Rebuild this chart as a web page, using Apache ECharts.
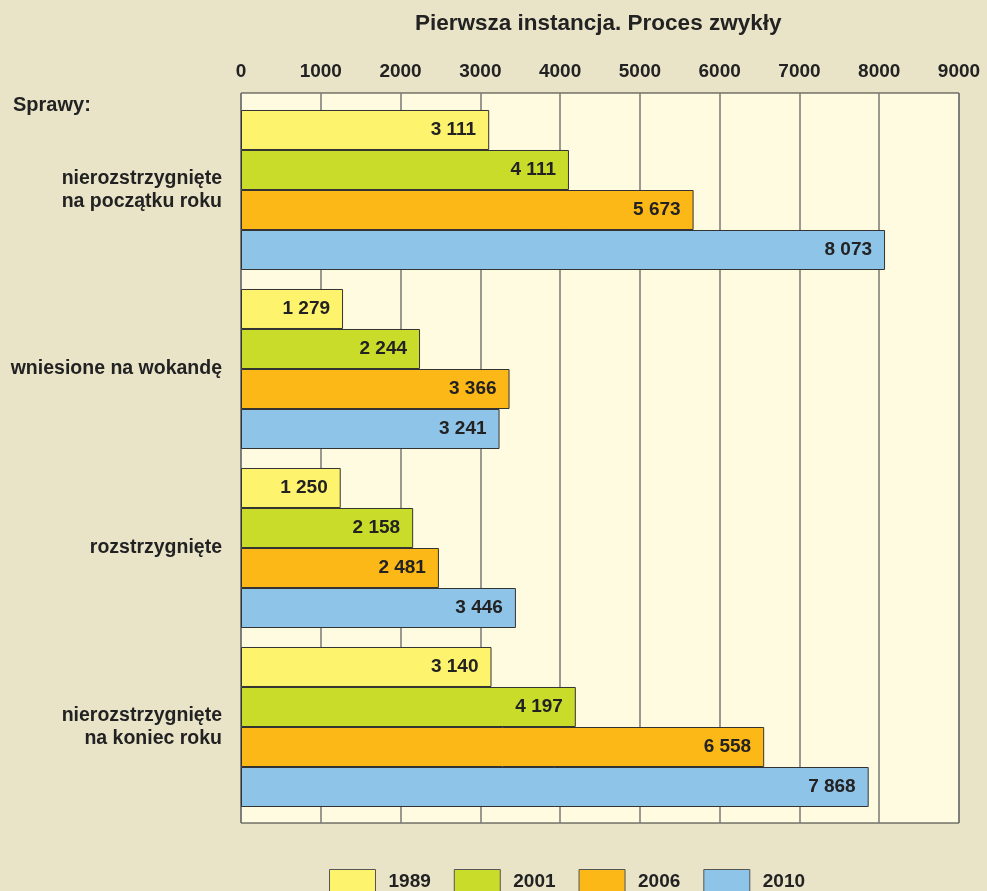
<!DOCTYPE html>
<html><head><meta charset="utf-8">
<script src="https://cdn.jsdelivr.net/npm/echarts@6/dist/echarts.min.js"></script>
<style>html,body{margin:0;padding:0;background:#e9e4c8}#c{width:987px;height:891px}</style>
</head><body><div id="c"></div>
<script>
const categories = ['nierozstrzygnięte\nna początku roku', 'wniesione na wokandę', 'rozstrzygnięte', 'nierozstrzygnięte\nna koniec roku'];
const years = ['1989', '2001', '2006', '2010'];
const v1989 = [3111, 1279, 1250, 3140];
const v2001 = [4111, 2244, 2158, 4197];
const v2006 = [5673, 3366, 2481, 6558];
const v2010 = [8073, 3241, 3446, 7868];
const xTicks = [0, 1000, 2000, 3000, 4000, 5000, 6000, 7000, 8000, 9000];
const colors = ['#fef36c', '#c9dc2a', '#fbb817', '#8fc4e9'];
const seriesData = [v1989, v2001, v2006, v2010];
const font = 'Liberation Sans, Arial, sans-serif';
function fmt(v){ return String(v).replace(/\B(?=(\d{3})+(?!\d))/g, ' '); }
const xMin = xTicks[0], xMax = xTicks[xTicks.length-1];
const chart = echarts.init(document.getElementById('c'));
chart.setOption({
  backgroundColor: '#e9e4c8',
  textStyle: { fontFamily: font },
  title: { text: 'Pierwsza instancja. Proces zwykły', left: 415, top: 12, padding: 0,
    textStyle: { fontFamily: font, fontSize: 22.5, fontWeight: 'bold', color: '#222' } },
  graphic: [{ type: 'text', left: 13, top: 95, style: { text: 'Sprawy:', font: 'bold 20px ' + font, fill: '#222' } }],
  legend: { top: 869, left: 329, padding: 0, itemWidth: 46, itemHeight: 24, itemGap: 23, icon: 'rect',
    data: years, textStyle: { fontFamily: font, fontSize: 19, fontWeight: 'bold', color: '#222', padding: [0,0,0,8] },
    itemStyle: { borderColor: '#555', borderWidth: 1 } },
  grid: [
    { left: 241, right: 28, top: 93, bottom: 68, show: true, backgroundColor: '#fffbe0', borderColor: '#333', borderWidth: 1 },
    { left: 241, right: 28, top: 100.5, bottom: 74.5 }
  ],
  xAxis: [
    { gridIndex: 0, type: 'value', position: 'top', min: xMin, max: xMax, interval: 1000,
      axisLine: { show: false }, axisTick: { show: false },
      axisLabel: { margin: 12, fontFamily: font, fontSize: 19, fontWeight: 'bold', color: '#222', formatter: v => String(v) },
      splitLine: { lineStyle: { color: '#777', width: 1.5 } } },
    { gridIndex: 1, type: 'value', min: xMin, max: xMax, show: false }
  ],
  yAxis: [
    { gridIndex: 0, type: 'value', show: false },
    { gridIndex: 1, type: 'category', inverse: true, data: categories,
      axisLine: { show: false }, axisTick: { show: false },
      axisLabel: { margin: 19, fontFamily: font, fontSize: 19.5, fontWeight: 'bold', color: '#222', align: 'right', lineHeight: 23 } }
  ],
  series: years.map((y, i) => ({
    name: y, type: 'bar', xAxisIndex: 1, yAxisIndex: 1, data: seriesData[i], barGap: '0%', barCategoryGap: '10.6%',
    itemStyle: { color: colors[i], borderColor: '#333', borderWidth: 1 },
    label: { show: true, position: 'insideRight', distance: 13, formatter: p => fmt(p.value),
      fontFamily: font, fontSize: 19, fontWeight: 'bold', color: '#222' }
  }))
});
</script></body></html>
